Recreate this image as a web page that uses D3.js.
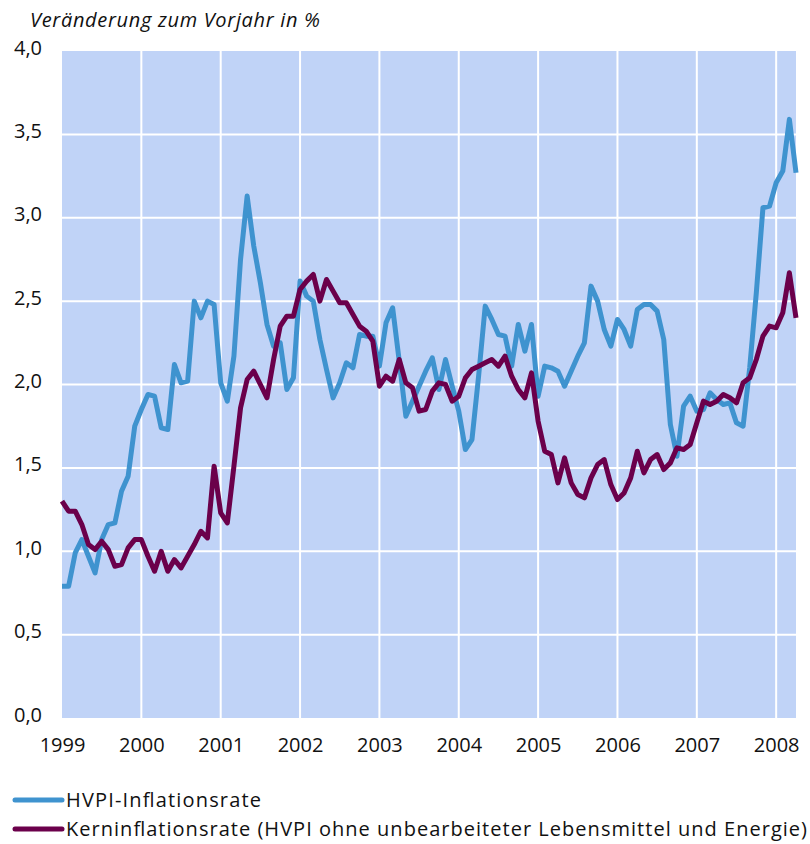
<!DOCTYPE html>
<html><head><meta charset="utf-8">
<script src="https://cdn.jsdelivr.net/npm/d3@7"></script>
<style>
html,body{margin:0;padding:0;background:#fff;}
svg text{font-family:"Open Sans",Lato,sans-serif;fill:#111;}
</style></head>
<body>
<svg id="chart" width="810" height="844"></svg>
<script>
const startYear = 1999;
const yearLabels = ["1999","2000","2001","2002","2003","2004","2005","2006","2007","2008"];
const yTicks = [0,0.5,1,1.5,2,2.5,3,3.5,4];
const seriesNames = ["HVPI-Inflationsrate","Kerninflationsrate (HVPI ohne unbearbeiteter Lebensmittel und Energie)"];
// monthly values, Jan 1999 - Apr 2008
const hvpi = [
0.79,0.79,0.99,1.07,0.97,0.87,1.07,1.16,1.17,1.36,1.45,1.75,
1.85,1.94,1.93,1.74,1.73,2.12,2.01,2.02,2.50,2.40,2.50,2.48,
2.01,1.90,2.17,2.75,3.13,2.83,2.61,2.36,2.23,2.25,1.97,2.04,
2.62,2.53,2.50,2.27,2.09,1.92,2.01,2.13,2.10,2.30,2.29,2.29,
2.11,2.37,2.46,2.14,1.81,1.90,1.99,2.08,2.16,1.97,2.15,1.99,
1.84,1.61,1.67,2.05,2.47,2.39,2.30,2.29,2.11,2.36,2.20,2.36,
1.93,2.11,2.10,2.08,1.99,2.08,2.17,2.25,2.59,2.50,2.33,2.23,
2.39,2.33,2.23,2.45,2.48,2.48,2.44,2.27,1.76,1.57,1.87,1.93,
1.84,1.85,1.95,1.91,1.88,1.89,1.77,1.75,2.10,2.55,3.06,3.07,
3.21,3.28,3.59,3.27];
const kern = [
1.30,1.24,1.24,1.16,1.04,1.01,1.06,1.01,0.91,0.92,1.02,1.07,
1.07,0.97,0.88,1.00,0.88,0.95,0.90,0.97,1.04,1.12,1.08,1.51,
1.23,1.17,1.51,1.86,2.03,2.08,2.00,1.92,2.15,2.35,2.41,2.41,
2.57,2.62,2.66,2.50,2.63,2.56,2.49,2.49,2.42,2.35,2.32,2.26,
1.99,2.05,2.02,2.15,2.01,1.98,1.84,1.85,1.96,2.01,2.00,1.90,
1.93,2.04,2.09,2.11,2.13,2.15,2.11,2.17,2.05,1.97,1.92,2.07,
1.78,1.60,1.58,1.41,1.56,1.41,1.34,1.32,1.44,1.52,1.55,1.40,
1.31,1.35,1.44,1.60,1.47,1.55,1.58,1.49,1.53,1.62,1.61,1.64,
1.77,1.90,1.88,1.90,1.94,1.92,1.89,2.01,2.04,2.15,2.29,2.35,
2.34,2.43,2.67,2.40];
const colors = ["#3f93cf","#6b004b"];

const svg = d3.select("#chart");
const m = {left:62, right:14, top:51, bottom:126};
const W = 810 - m.left - m.right, H = 844 - m.top - m.bottom;
const x = d3.scaleLinear().domain([0, hvpi.length-1]).range([0, W]);
const y = d3.scaleLinear().domain([0,4]).range([H,0]);
const g = svg.append("g").attr("transform",`translate(${m.left},${m.top})`);

g.append("rect").attr("width",W).attr("height",H).attr("fill","#c0d3f7");

const yearIdx = yearLabels.map((d,i)=>i*12);
g.selectAll(".vg").data(yearIdx.slice(1)).join("line")
 .attr("x1",d=>x(d)).attr("x2",d=>x(d)).attr("y1",0).attr("y2",H)
 .attr("stroke","#fff").attr("stroke-width",2);
g.selectAll(".hg").data(yTicks.slice(1,-1)).join("line")
 .attr("x1",0).attr("x2",W).attr("y1",d=>y(d)).attr("y2",d=>y(d))
 .attr("stroke","#fff").attr("stroke-width",2);

const fmt = d=>d.toFixed(1).replace(".",",");
const yAxis = g.append("g").call(d3.axisLeft(y).tickValues(yTicks).tickFormat(fmt).tickSize(0).tickPadding(20));
yAxis.select(".domain").remove();
yAxis.selectAll("text").style("font-size","20px").style("font-family","'Open Sans',sans-serif").style("font-weight","500").attr("fill","#111").attr("dy","0.15em");

const xAxis = g.append("g").attr("transform",`translate(0,${H})`)
 .call(d3.axisBottom(x).tickValues(yearIdx).tickFormat((d,i)=>yearLabels[i]).tickSize(0).tickPadding(20));
xAxis.select(".domain").remove();
xAxis.selectAll("text").style("font-size","20px").style("font-family","'Open Sans',sans-serif").style("font-weight","500").attr("fill","#111");

const line = d3.line().x((d,i)=>x(i)).y(d=>y(d)).curve(d3.curveLinear);
[hvpi,kern].forEach((s,k)=>{
  g.append("path").datum(s).attr("d",line).attr("fill","none")
   .attr("stroke",colors[k]).attr("stroke-width",5).attr("stroke-linejoin","round");
});

svg.append("text").attr("x",30).attr("y",27).style("font-size","20px").style("font-style","italic")
 .attr("textLength",290).attr("lengthAdjust","spacing")
 .text("Veränderung zum Vorjahr in %");

const legLens = [195, 741];
const leg = svg.append("g");
seriesNames.forEach((n,k)=>{
  const yy = 800 + k*29;
  leg.append("line").attr("x1",15).attr("x2",62).attr("y1",yy).attr("y2",yy)
   .attr("stroke",colors[k]).attr("stroke-width",5).attr("stroke-linecap","round");
  leg.append("text").attr("x",66).attr("y",yy+7).style("font-size","20px")
   .attr("textLength",legLens[k]).attr("lengthAdjust","spacing").text(n);
});
</script>
</body></html>
